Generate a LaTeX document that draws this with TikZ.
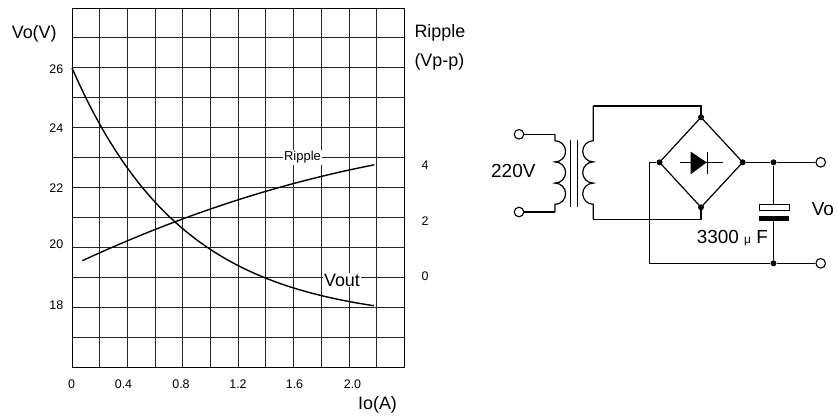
\documentclass[tikz,border=0pt]{standalone}
\usepackage{fontspec}
\setmainfont{Liberation Sans}
\begin{document}
\begin{tikzpicture}[x=1bp,y=-1bp,
  gridline/.style={line width=0.9bp, black!85},
  curve/.style={line width=1.4bp, black},
  wire/.style={line width=1.2bp, black, line join=miter},
  tick/.style={font=\fontsize{12.5}{14}\selectfont, inner sep=0pt},
  axislabel/.style={font=\fontsize{18}{21}\selectfont, inner sep=0pt},
  terminal/.style={circle, draw, line width=1.1bp, fill=white, minimum size=9.6bp, inner sep=0pt},
  dot/.style={circle, fill=black, minimum size=6bp, inner sep=0pt},
  clabel/.style={font=\fontsize{19}{22}\selectfont, inner sep=0pt}]
\useasboundingbox (0,0) rectangle (837,417);
\fill[white] (0,0) rectangle (837,417);

% ---------------- graph grid ----------------
\foreach \i in {0,...,12} {
  \draw[gridline] ({72+27.7*\i},8) -- ({72+27.7*\i},367.3);
  \draw[gridline] (72,{8+29.94*\i}) -- (404.4,{8+29.94*\i});
}
\draw[line width=1bp] (72,8) rectangle (404.4,367.3);

% Vout curve
\draw[curve] plot[domain=0:2.18, samples=80]
  ({72+138.5*\x}, {67.9+29.94*(8.5-8.5*exp(-1.25*\x))});
% Ripple curve
\draw[curve] plot[domain=82.3:374.3, samples=60]
  (\x, {260.7-0.462*(\x-82.3)+0.000454*(\x-82.3)*(\x-82.3)});

\node[font=\fontsize{13}{15}\selectfont, fill=white, inner sep=1pt] (riplab) at (302.5,157.5) {Ripple};
\node[axislabel, fill=white, inner sep=1pt] (voutlab) at (342,280) {Vout};

% axis labels
\node[axislabel] (vov) at (34.2,33.5) {Vo(V)};
\node[axislabel, anchor=west] (ripH) at (414.3,33) {Ripple};
\node[axislabel, anchor=west] (vpp) at (414.3,61.7) {(Vp-p)};
\node[axislabel] (ioa) at (377.5,405) {Io(A)};

\node[tick, anchor=east] (y26) at (63.5,69) {26};
\node[tick, anchor=east] (y24) at (63.5,128.3) {24};
\node[tick, anchor=east] (y22) at (63.5,187.7) {22};
\node[tick, anchor=east] (y20) at (63.5,244.3) {20};
\node[tick, anchor=east] (y18) at (63.5,305.7) {18};

\node[tick] (r4) at (425,165.5) {4};
\node[tick] (r2) at (425,221.5) {2};
\node[tick] (r0) at (425,276.7) {0};

\node[tick] (x0) at (71.7,384.5) {0};
\node[tick] (x04) at (123.5,384.5) {0.4};
\node[tick] (x08) at (181,384.5) {0.8};
\node[tick] (x12) at (238,384.5) {1.2};
\node[tick] (x16) at (294.5,384.5) {1.6};
\node[tick] (x20) at (352.5,384.5) {2.0};

% ---------------- circuit ----------------
\coordinate (P1) at (555,134.3);
\coordinate (P1b) at (555,140.7);
\coordinate (P2) at (555,212);
\coordinate (S0) at (593.3,106);
\coordinate (S1) at (593.3,140.7);
\coordinate (S3) at (593.3,219.3);
\coordinate (Dtop) at (701,117.3);
\coordinate (Dright) at (742.7,162.3);
\coordinate (Dbot) at (701,207.3);
\coordinate (Dleft) at (659.5,162.3);
\coordinate (Ttop) at (701,106);
\coordinate (Tbot) at (701,219.3);
\coordinate (L1) at (649.3,162.3);
\coordinate (L2) at (649.3,263.3);
\coordinate (Ctop) at (773.5,204.3);
\coordinate (Cbot) at (773.5,220.7);

\node[dot] (j1) at (773.5,162.3) {};
\node[dot] (j2) at (773.5,263.3) {};

% transformer primary
\draw[wire] (P1) -- (P1b)
  arc[start angle=90, end angle=-90, radius=10.6bp]
  arc[start angle=90, end angle=-90, radius=10.6bp]
  arc[start angle=90, end angle=-90, radius=10.6bp] -- (P2);
% core
\draw[wire] (570.7,140) -- (570.7,207.3);
\draw[wire] (577.3,140) -- (577.3,207.3);
% secondary
\draw[wire] (S0) -- (S1)
  arc[start angle=90, end angle=270, radius=10.6bp]
  arc[start angle=90, end angle=270, radius=10.6bp]
  arc[start angle=90, end angle=270, radius=10.6bp] -- (S3);
\draw[wire] (S0) -- (Ttop) -- (Dtop);
\draw[wire] (S3) -- (Tbot) -- (Dbot);

% bridge
\draw[wire] (Dtop) -- (Dright) -- (Dbot) -- (Dleft) -- cycle;
\node[dot] (dt) at (Dtop) {};
\node[dot] (dr) at (Dright) {};
\node[dot] (db) at (Dbot) {};
\node[dot] (dl) at (Dleft) {};
% diode symbol
\draw[wire] (680,162.3) -- (722.7,162.3);
\fill (690.7,151.7) -- (706.7,162.3) -- (690.7,174.3) -- cycle;
\draw[wire] (707.3,151.7) -- (707.3,174.3);

% output
\node[terminal] (o1) at (820.7,162.3) {};
\node[terminal] (o2) at (820.7,263.3) {};
\draw[wire] (dr) -- (j1) -- (o1);
\draw[wire] (dl) -- (L1) -- (L2) -- (j2) -- (o2);
% capacitor
\draw[wire] (j1) -- (Ctop);
\draw[line width=1.1bp, fill=white] (759.3,204.3) rectangle (789.3,210.7);
\fill (759.3,215.7) rectangle (789.3,220.7);
\draw[wire] (Cbot) -- (j2);

% input terminals
\node[terminal] (i1) at (519,134.3) {};
\node[terminal] (i2) at (519,212) {};
\draw[wire] (i1) -- (P1);
\draw[wire] (i2) -- (P2);

\node[clabel] (v220) at (513.3,170.8) {220V};
\node[clabel] (cap) at (732.3,238.3) {3300 {\fontsize{12}{14}\selectfont μ} F};
\node[clabel, anchor=west] (vo) at (811.7,209) {Vo};
\end{tikzpicture}
\end{document}
